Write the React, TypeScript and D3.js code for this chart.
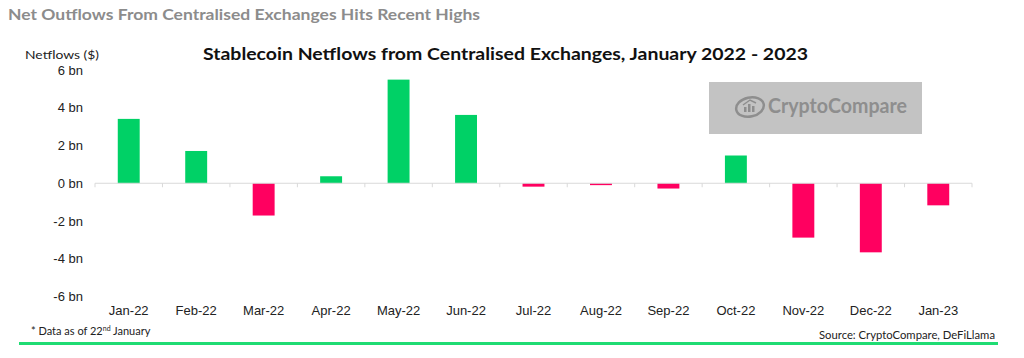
import React from "react";
import * as d3 from "d3";

const months = ["Jan-22","Feb-22","Mar-22","Apr-22","May-22","Jun-22","Jul-22","Aug-22","Sep-22","Oct-22","Nov-22","Dec-22","Jan-23"];
const netflows = [3.41, 1.71, -1.71, 0.37, 5.49, 3.62, -0.18, -0.1, -0.28, 1.47, -2.88, -3.66, -1.17];
const yTicks = [6, 4, 2, 0, -2, -4, -6];

const W = 1024, H = 358;
const GREEN = "#00d166";
const PINK = "#ff0060";

export default function App() {
  const x = d3.scaleBand<string>().domain(months).range([95, 972]).paddingInner(0.675).paddingOuter(0.3375);
  const y = d3.scaleLinear().domain([-6, 6]).range([296.5, 70]);
  const step = x.step();
  const x0 = 95;
  const boundaries = d3.range(months.length + 1).map((i) => x0 + i * step);
  const sans = "'Liberation Sans', Arial, sans-serif";
  const geo = "Lato, 'Open Sans', sans-serif";
  return (
    <svg width={W} height={H} style={{ position: "absolute", left: 0, top: 0, background: "#fff" }}>
      <rect x={0} y={0} width={W} height={H} fill="#fff" />
      <text x={8} y={20} fontFamily={geo} fontWeight={700} fontSize={15.5} fill="#8c8c8c" textLength={472} lengthAdjust="spacingAndGlyphs">
        Net Outflows From Centralised Exchanges Hits Recent Highs
      </text>
      <text x={203} y={60} fontFamily={geo} fontWeight={700} fontSize={17} fill="#111" textLength={605} lengthAdjust="spacingAndGlyphs">
        Stablecoin Netflows from Centralised Exchanges, January 2022 - 2023
      </text>
      <text x={25} y={58.5} fontFamily={geo} fontSize={12} fill="#222" textLength={74} lengthAdjust="spacingAndGlyphs">
        Netflows ($)
      </text>
      {/* watermark */}
      <rect x={709} y={82} width={213} height={52} fill="#c3c3c3" />
      <ellipse cx={750} cy={107} rx={14} ry={9.5} fill="none" stroke="#8e8e8e" strokeWidth={2.5} transform="rotate(-12 750 107)" />
      <rect x={744} y={107} width={2.5} height={5} fill="#8e8e8e" />
      <rect x={748} y={104} width={2.5} height={8} fill="#8e8e8e" />
      <rect x={752} y={106} width={2.5} height={6} fill="#8e8e8e" />
      <path d="M743 105 L750 100 L756 103" fill="none" stroke="#8e8e8e" strokeWidth={1.5} />
      <text x={768} y={113} fontFamily={geo} fontWeight={700} fontSize={20} fill="#8e8e8e" textLength={139} lengthAdjust="spacingAndGlyphs">
        CryptoCompare
      </text>
      {/* y ticks */}
      {yTicks.map((t) => (
        <text key={t} x={83} y={y(t)} dy="0.36em" textAnchor="end" fontFamily={sans} fontSize={13} fill="#222">
          {`${t} bn`}
        </text>
      ))}
      {/* bars */}
      {months.map((m, i) => {
        const v = netflows[i];
        const top = v >= 0 ? y(v) : y(0);
        const h = Math.abs(y(v) - y(0));
        return <rect key={m} x={x(m)} y={top} width={x.bandwidth()} height={h} fill={v >= 0 ? GREEN : PINK} />;
      })}
      {/* axis */}
      <line x1={x0} x2={x0 + months.length * step} y1={y(0)} y2={y(0)} stroke="#d9d9d9" strokeWidth={1.2} />
      {boundaries.map((b, i) => (
        <line key={i} x1={b} x2={b} y1={y(0)} y2={y(0) + 4} stroke="#d9d9d9" strokeWidth={1} />
      ))}
      {months.map((m) => (
        <text key={m} x={(x(m) as number) + x.bandwidth() / 2} y={315} textAnchor="middle" fontFamily={sans} fontSize={13} fill="#222">
          {m}
        </text>
      ))}
      {/* footer */}
      <text x={31} y={334.5} fontFamily={geo} fontSize={11} fill="#222">
        * Data as of 22<tspan fontSize={7} dy={-4}>nd</tspan><tspan dy={4}> January</tspan>
      </text>
      <text x={995} y={339} textAnchor="end" fontFamily={geo} fontSize={11} fill="#222" textLength={176} lengthAdjust="spacingAndGlyphs">
        Source: CryptoCompare, DeFiLlama
      </text>
      <line x1={19} x2={998} y1={343.5} y2={343.5} stroke="#1fdc73" strokeWidth={3} />
    </svg>
  );
}
